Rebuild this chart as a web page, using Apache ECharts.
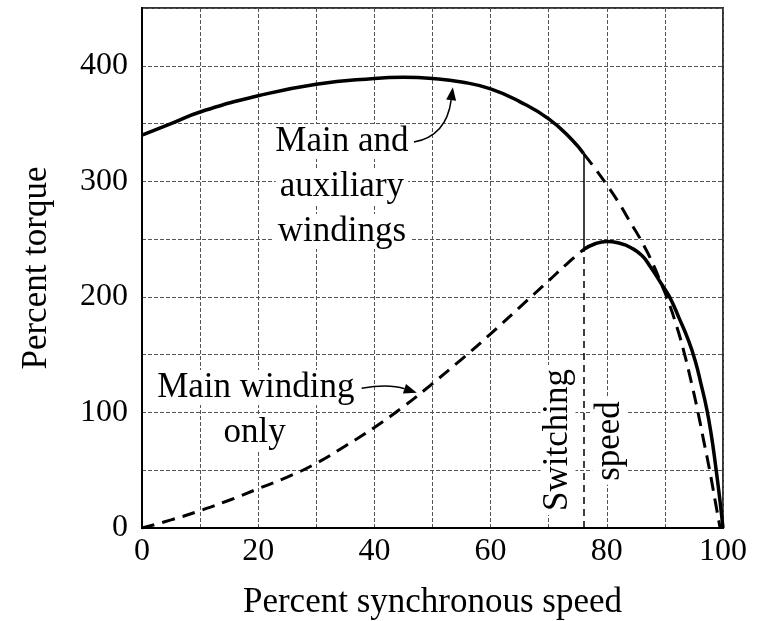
<!DOCTYPE html>
<html>
<head>
<meta charset="utf-8">
<script src="https://cdn.jsdelivr.net/npm/echarts@6/dist/echarts.min.js"></script>
<style>
html,body{margin:0;padding:0;background:#fff}
#main{width:761px;height:621px}
</style>
</head>
<body>
<div id="main"></div>
<script>
// main + auxiliary windings, solid up to the switching speed
var bothSpeed = [0, 5, 10, 20, 30, 40, 45, 50, 55, 60, 65, 70, 74, 76];
var bothTorque = [340, 350, 360, 374, 384, 389, 390, 389, 386, 380, 369, 354, 336, 324];
// same curve after switching (dashed)
var bothRestSpeed = [76, 78, 80, 82, 84, 86, 88, 89.3, 90.3, 92, 93.4, 94.6, 95.7, 96.7, 97.7, 98.6, 99.5];
var bothRestTorque = [324, 311, 297, 282, 265, 248, 228, 212, 200, 175, 150, 125, 100, 75, 50, 25, 0];
// main winding only, dashed up to the switching speed
var mainLowSpeed = [0, 5, 10, 15, 20, 25, 30, 35, 40, 45, 50, 55, 60, 65, 70, 73, 76];
var mainLowTorque = [0, 7, 15, 24, 34, 44, 56, 71, 87, 105, 125, 146, 168, 191, 214, 228, 241];
// main winding only after switching (solid)
var mainHighSpeed = [76, 78, 80, 82.5, 84, 86, 87.5, 89.3, 90.8, 92.5, 94, 95.2, 96.2, 97.2, 98, 98.7, 99.4, 100];
var mainHighTorque = [241, 246, 248, 246, 243, 236, 226, 212, 200, 181, 163, 145, 125, 103, 80, 55, 27, 0];

var switchSpeed = 76;
var xTicks = [0, 20, 40, 60, 80, 100];
var yTicks = [0, 100, 200, 300, 400];

var serif = '"Liberation Serif", "Times New Roman", serif';

function pairs(xs, ys) {
    let out = [];
    for (let i = 0; i < xs.length; ++i) {
        out.push([xs[i], ys[i]]);
    }
    return out;
}

var myChart = echarts.init(document.getElementById('main'));

var gridLine = { show: true, lineStyle: { color: '#555', width: 1, type: [4, 2] } };

var option = {
    animation: false,
    backgroundColor: '#fff',
    grid: {
        left: 142, right: 38, top: 8, bottom: 93, outerBoundsMode: 'none',
        show: true, borderColor: '#333', borderWidth: 2
    },
    xAxis: {
        type: 'value', min: 0, max: 100, interval: 10,
        axisLine: { show: true, lineStyle: { color: '#000', width: 2 } },
        axisTick: { show: false },
        axisLabel: {
            margin: 8, color: '#000', fontFamily: serif, fontSize: 32,
            formatter: function (v) { return xTicks.indexOf(v) >= 0 ? String(v) : ''; }
        },
        splitLine: gridLine,
        name: 'Percent synchronous speed', nameLocation: 'middle', nameGap: 57,
        nameTextStyle: { color: '#000', fontFamily: serif, fontSize: 35 }
    },
    yAxis: {
        type: 'value', min: 0, max: 450, interval: 50,
        axisLine: { show: true, lineStyle: { color: '#000', width: 2 } },
        axisTick: { show: false },
        axisLabel: {
            margin: 14, color: '#000', fontFamily: serif, fontSize: 32,
            formatter: function (v) { return yTicks.indexOf(v) >= 0 ? String(v) : ''; }
        },
        splitLine: gridLine,
        name: 'Percent torque', nameLocation: 'middle', nameGap: 88,
        nameTextStyle: { color: '#000', fontFamily: serif, fontSize: 35 }
    },
    series: [
        {
            type: 'line', data: pairs(bothSpeed, bothTorque), showSymbol: false, smooth: 0.5,
            lineStyle: { color: '#000', width: 3.5 },
            markLine: {
                silent: true, symbol: ['none', 'none'], label: { show: false },
                lineStyle: { color: '#000', width: 1.5, type: 'solid' },
                data: [[{ coord: [switchSpeed, mainLowTorque[mainLowTorque.length - 1]] },
                        { coord: [switchSpeed, bothTorque[bothTorque.length - 1]] }]]
            }
        },
        {
            type: 'line', data: pairs(bothRestSpeed, bothRestTorque), showSymbol: false, smooth: 0.5,
            lineStyle: { color: '#000', width: 3, type: [14, 8] }
        },
        {
            type: 'line', data: pairs(mainLowSpeed, mainLowTorque), showSymbol: false, smooth: 0.5,
            lineStyle: { color: '#000', width: 3, type: [13, 8] },
            markLine: {
                silent: true, symbol: ['none', 'none'], label: { show: false },
                lineStyle: { color: '#000', width: 1.5, type: [7, 5] },
                data: [[{ coord: [switchSpeed, 0] },
                        { coord: [switchSpeed, mainLowTorque[mainLowTorque.length - 1]] }]]
            }
        },
        {
            type: 'line', data: pairs(mainHighSpeed, mainHighTorque), showSymbol: false, smooth: 0.5,
            lineStyle: { color: '#000', width: 3.5 }
        }
    ]
};

myChart.setOption(option);

function px(x, y) {
    return myChart.convertToPixel({ gridIndex: 0 }, [x, y]);
}

function label(text, x, y, rot) {
    let p = px(x, y);
    return {
        type: 'text', x: p[0], y: p[1], rotation: rot || 0, z: 100,
        style: {
            text: text, fill: '#000', font: '35px ' + serif,
            align: 'center', verticalAlign: 'middle', backgroundColor: '#fff', padding: [0, 4]
        }
    };
}

function arrow(a, c, b) {
    let p0 = px(a[0], a[1]), pc = px(c[0], c[1]), p1 = px(b[0], b[1]);
    let dx = p1[0] - pc[0], dy = p1[1] - pc[1];
    let len = Math.sqrt(dx * dx + dy * dy);
    dx /= len; dy /= len;
    let L = 13, W = 5;
    let bx = p1[0] - dx * L, by = p1[1] - dy * L;
    return [
        {
            type: 'bezierCurve', z: 100,
            shape: { x1: p0[0], y1: p0[1], cpx1: pc[0], cpy1: pc[1], x2: bx, y2: by },
            style: { stroke: '#000', lineWidth: 1.5, fill: null }
        },
        {
            type: 'polygon', z: 100,
            shape: { points: [[p1[0], p1[1]], [bx - dy * W, by + dx * W], [bx + dy * W, by - dx * W]] },
            style: { fill: '#000' }
        }
    ];
}

var graphics = [
    label('Main and', 34.4, 334.5),
    label('auxiliary', 34.4, 295.5),
    label('windings', 34.4, 256.5),
    label('Main winding', 19.6, 121.5),
    label('only', 19.4, 82.5),
    label('Switching', 71.6, 76.1, Math.PI / 2),
    label('speed', 80.5, 75.3, Math.PI / 2)
].concat(arrow([46.8, 334], [52.4, 339.3], [53.5, 381.5]))
 .concat(arrow([37.8, 121], [42.5, 125], [47.3, 117]));

myChart.setOption({ graphic: graphics });
</script>
</body>
</html>
